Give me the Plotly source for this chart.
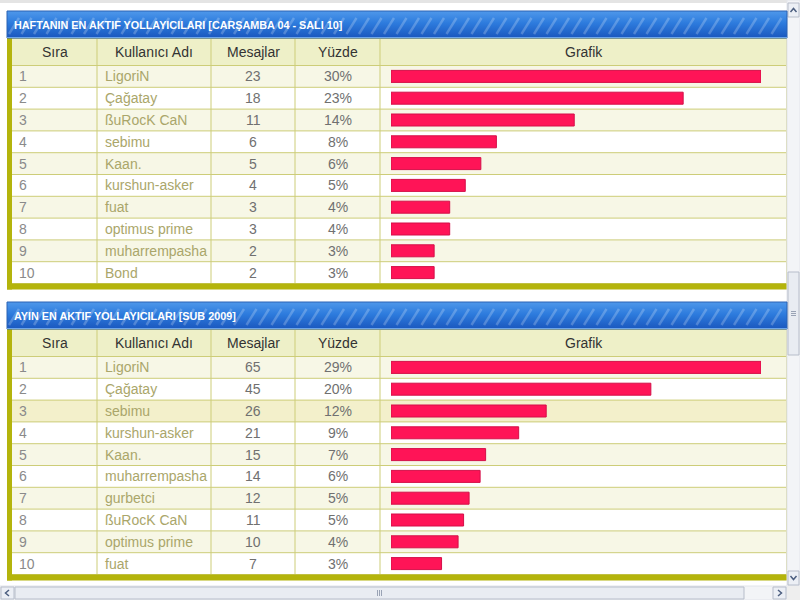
import plotly.graph_objects as go

# ---------------- data ----------------
columns = ["Sıra", "Kullanıcı Adı", "Mesajlar", "Yüzde", "Grafik"]

weekly_title = "HAFTANIN EN AKTIF YOLLAYICILARI [CARŞAMBA 04 - SALI 10]"
weekly_rank = [1, 2, 3, 4, 5, 6, 7, 8, 9, 10]
weekly_users = ["LigoriN", "Çağatay", "ßuRocK CaN", "sebimu", "Kaan.",
                "kurshun-asker", "fuat", "optimus prime", "muharrempasha", "Bond"]
weekly_posts = [23, 18, 11, 6, 5, 4, 3, 3, 2, 2]
weekly_pct = ["30%", "23%", "14%", "8%", "6%", "5%", "4%", "4%", "3%", "3%"]

monthly_title = "AYIN EN AKTIF YOLLAYICILARI [SUB 2009]"
monthly_rank = [1, 2, 3, 4, 5, 6, 7, 8, 9, 10]
monthly_users = ["LigoriN", "Çağatay", "sebimu", "kurshun-asker", "Kaan.",
                 "muharrempasha", "gurbetci", "ßuRocK CaN", "optimus prime", "fuat"]
monthly_posts = [65, 45, 26, 21, 15, 14, 12, 11, 10, 7]
monthly_pct = ["29%", "20%", "12%", "9%", "7%", "6%", "5%", "5%", "4%", "3%"]

# ---------------- layout constants (pixels) ----------------
W, H = 800, 600
PX0, PX1 = 7, 787            # panel left/right
COL_X = [12, 97, 211, 295, 380, 787]
TITLE_H = 27
HEAD_H = 27.5
ROW_H = 21.8
BOT_H = 6
BAR_X0, BAR_X1 = 391, 761
BAR_CAP = 12                 # fixed cap length of each graph bar
BAR_H = 12

BLUE_TOP, BLUE_MID, BLUE_BOT = "#4f98ea", "#2d7bdd", "#1a57be"
OLIVE = "#b4b40c"
GRID = "#cdcd78"
HEAD_BG = "#eef0c8"
ROW_ODD = "#f7f7e6"
ROW_EVEN = "#ffffff"
ROW_HOVER = "#f3f0cb"
BAR_COLOR = "#ff1457"
FONT = "Liberation Sans, Arial, sans-serif"

panels = [
    dict(top=11, title=weekly_title, rank=weekly_rank, users=weekly_users,
         posts=weekly_posts, pct=weekly_pct, hover=None),
    dict(top=302, title=monthly_title, rank=monthly_rank, users=monthly_users,
         posts=monthly_posts, pct=monthly_pct, hover=2),
]

fig = go.Figure()
shapes = []
annotations = []


def rect(x0, y0, x1, y1, fill, line=None, lw=0, layer="below"):
    shapes.append(dict(type="rect", xref="x", yref="y", x0=x0, y0=y0, x1=x1, y1=y1,
                       fillcolor=fill, line=dict(color=line or fill, width=lw),
                       layer=layer))


def hline(x0, x1, y, color, width=1, layer="below"):
    shapes.append(dict(type="line", xref="x", yref="y", x0=x0, x1=x1, y0=y, y1=y,
                       line=dict(color=color, width=width), layer=layer))


def vline(x, y0, y1, color, width=1, layer="below"):
    shapes.append(dict(type="line", xref="x", yref="y", x0=x, x1=x, y0=y0, y1=y1,
                       line=dict(color=color, width=width), layer=layer))


def text(x, y, s, size, color, anchor="left", bold=False):
    annotations.append(dict(xref="x", yref="y", x=x, y=y, text=("<b>%s</b>" % s) if bold else s,
                            showarrow=False, xanchor=anchor, yanchor="middle",
                            font=dict(family=FONT, size=size, color=color)))


# top grey browser strip
rect(0, 0, PX1, 3, "#e4e4e4")

# background pixel-space axis (subplot xy)
fig.add_trace(go.Scatter(x=[0, W], y=[0, H], mode="markers",
                         marker=dict(opacity=0), hoverinfo="skip", showlegend=False,
                         xaxis="x", yaxis="y"))

bar_axes = [("x2", "y2"), ("x3", "y3")]
layout_axes = {}

for pi, p in enumerate(panels):
    t0 = p["top"]
    t1 = t0 + TITLE_H
    h1 = t1 + HEAD_H
    n = len(p["users"])
    r_end = h1 + n * ROW_H
    b_end = r_end + BOT_H

    # title bar gradient
    fig.add_trace(go.Scatter(
        x=[PX0, PX1, PX1, PX0, PX0], y=[t0, t0, t1, t1, t0],
        fill="toself", mode="lines", line=dict(width=1, color="#2a62b4"),
        fillgradient=dict(type="vertical", start=t0, stop=t1,
                          colorscale=[[0, BLUE_TOP], [0.45, BLUE_MID], [1, BLUE_BOT]]),
        hoverinfo="skip", showlegend=False, xaxis="x", yaxis="y"))
    # diagonal stripes
    sx, sy = [], []
    xs = PX0 + 2
    while xs + 10 < PX1 - 1:
        sx += [xs, xs + 10, None]
        sy += [t1 - 4, t0 + 7, None]
        xs += 12.5
    fig.add_trace(go.Scatter(x=sx, y=sy, mode="lines",
                             line=dict(color="rgba(255,255,255,0.22)", width=2.5),
                             hoverinfo="skip", showlegend=False, xaxis="x", yaxis="y"))
    hline(PX0, PX1, t1 - 0.5, "#6fa6e8", 1, layer="above")
    text(PX0 + 5, (t0 + t1) / 2 + 0.5, p["title"], 10.8, "white", bold=True)

    # header row
    rect(COL_X[0], t1, PX1, h1, HEAD_BG)
    for ci, c in enumerate(columns):
        text((COL_X[ci] + COL_X[ci + 1]) / 2, (t1 + h1) / 2, c, 14, "#333333", anchor="center")

    # data rows
    for i in range(n):
        y0 = h1 + i * ROW_H
        y1 = y0 + ROW_H
        if p["hover"] == i:
            bg = ROW_HOVER
        else:
            bg = ROW_ODD if i % 2 == 0 else ROW_EVEN
        rect(COL_X[0], y0, PX1, y1, bg)
        yc = (y0 + y1) / 2
        text(COL_X[0] + 5, yc, str(p["rank"][i]), 14, "#8a8a8a")
        text(COL_X[1] + 6, yc, p["users"][i], 14, "#aaa66a")
        text((COL_X[2] + COL_X[3]) / 2, yc, str(p["posts"][i]), 14, "#707070", anchor="center")
        text((COL_X[3] + COL_X[4]) / 2, yc, p["pct"][i], 14, "#707070", anchor="center")

    # grid lines
    for i in range(n + 1):
        hline(COL_X[0], PX1, h1 + i * ROW_H, GRID)
    hline(COL_X[0], PX1, t1 + 0.5, GRID)
    for cx in COL_X[1:5]:
        vline(cx, t1, r_end, GRID)
    vline(PX1 - 0.5, t1, r_end, "#d8d8a0")

    # olive borders
    rect(PX0, t1, COL_X[0], b_end, OLIVE)
    rect(PX0, r_end, PX1, b_end, OLIVE)

    # graph bars in their own subplot
    xa, ya = bar_axes[pi]
    vmax = max(p["posts"])
    cap = vmax * BAR_CAP / (BAR_X1 - BAR_X0 - BAR_CAP)
    fig.add_trace(go.Bar(
        x=[v + cap for v in p["posts"]], y=list(range(n)), base=-cap,
        orientation="h", width=BAR_H / ROW_H,
        marker=dict(color=BAR_COLOR, line=dict(color="#d40f48", width=1)),
        hoverinfo="skip", showlegend=False, xaxis=xa, yaxis=ya))
    layout_axes["xaxis" + xa[1:]] = dict(
        domain=[BAR_X0 / W, BAR_X1 / W], range=[-cap, vmax], visible=False,
        anchor=ya, fixedrange=True)
    layout_axes["yaxis" + ya[1:]] = dict(
        domain=[1 - r_end / H, 1 - h1 / H], range=[n - 0.5, -0.5], visible=False,
        anchor=xa, fixedrange=True)

# ---------------- browser scrollbars ----------------
SB = "#f3f4f7"
BTN = "#eceff5"
BTN_L = "#b7bdca"
ARROW = "#4d5f80"
rect(PX1, 0, W, 586, SB, "#e2e4ea", 1)
rect(0, 586, PX1, H, SB, "#e2e4ea", 1)
rect(PX1, 586, W, H, "#eeeeee")
# buttons
rect(PX1 + 1, 3, W - 1, 17, BTN, BTN_L, 1)
rect(PX1 + 1, 571, W - 1, 585, BTN, BTN_L, 1)
rect(1, 587, 14, 599, BTN, BTN_L, 1)
rect(773, 587, PX1 - 1, 599, BTN, BTN_L, 1)
# thumbs
rect(PX1 + 1, 272, W - 1, 355, "#e9ecf2", BTN_L, 1)
rect(15, 587, 744, 599, "#e9ecf2", BTN_L, 1)
for d in (-2, 0, 2):
    hline(PX1 + 4, W - 4, 313.5 + d, "#9aa3b5")
    vline(379.5 + d, 590, 596, "#9aa3b5")
arrows = [
    "M 790.5 12 L 793.5 8.5 L 796.5 12",
    "M 790.5 576 L 793.5 579.5 L 796.5 576",
    "M 9 590 L 5.5 593 L 9 596",
    "M 778 590 L 781.5 593 L 778 596",
]
for pth in arrows:
    shapes.append(dict(type="path", path=pth, xref="x", yref="y",
                       line=dict(color=ARROW, width=1.5), layer="above"))

fig.update_layout(
    width=W, height=H, margin=dict(l=0, r=0, t=0, b=0),
    paper_bgcolor="white", plot_bgcolor="rgba(0,0,0,0)",
    xaxis=dict(domain=[0, 1], range=[0, W], visible=False, fixedrange=True),
    yaxis=dict(domain=[0, 1], range=[H, 0], visible=False, fixedrange=True),
    shapes=shapes, annotations=annotations, showlegend=False,
    **layout_axes,
)

fig.write_html("out.html", config={"displayModeBar": False},
               post_script="document.body.style.margin='0px';")
